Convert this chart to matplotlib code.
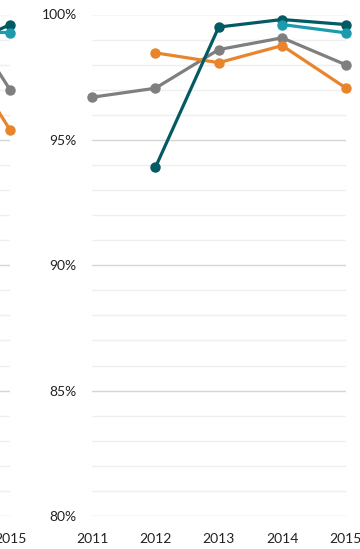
import matplotlib.pyplot as plt
from matplotlib.ticker import MultipleLocator, FuncFormatter

plt.rcParams['font.family'] = ['Lato', 'DejaVu Sans']

years = [2011, 2012, 2013, 2014, 2015]

# main panel series (percent), None where no value
dark_teal = [None, 93.9, 99.5, 99.8, 99.6]
teal = [None, None, None, 99.6, 99.27]
gray = [96.7, 97.06, 98.6, 99.07, 98.0]
orange = [None, 98.47, 98.08, 98.76, 97.08]

# previous panel, only its last segment is in view
prev_years = [2014, 2015]
prev_dark_teal = [98.85, 99.6]
prev_teal = [99.3, 99.28]
prev_gray = [99.5, 97.0]
prev_orange = [97.95, 95.4]

colors = {'dark_teal': '#045A62', 'teal': '#1B9BAC', 'gray': '#7F7F7F', 'orange': '#E8852C'}

W, H = 360, 549
fig = plt.figure(figsize=(W / 100, H / 100), dpi=100)

top = (H - 14.5) / H
bottom = (H - 516) / H


def style_axes(ax):
    ax.set_ylim(80, 100)
    ax.yaxis.set_major_locator(MultipleLocator(5))
    ax.yaxis.set_minor_locator(MultipleLocator(1))
    ax.grid(which='major', axis='y', color='#d6d6d6', linewidth=1.0)
    ax.grid(which='minor', axis='y', color='#efefef', linewidth=1.0)
    ax.set_axisbelow(True)
    for s in ax.spines.values():
        s.set_visible(False)
    ax.tick_params(which='both', length=0, labelsize=10, colors='#222222')
    ax.tick_params(axis='y', pad=11)
    ax.tick_params(axis='x', pad=12)
    ax.yaxis.set_major_formatter(FuncFormatter(lambda v, p: '%d%%' % v))


def draw(ax, xs, series):
    for key, vals in series:
        pts = [(x, v) for x, v in zip(xs, vals) if v is not None]
        ax.plot([p[0] for p in pts], [p[1] for p in pts], color=colors[key],
                linewidth=2.3, marker='o', markersize=6.5, clip_on=False)


# previous panel (cut off at the left edge)
span = 6 * 40
ax0 = fig.add_axes([(10 - span) / W, bottom, span / W, top - bottom])
style_axes(ax0)
ax0.set_xlim(2009, 2015)
ax0.set_xticks([2015])
ax0.set_yticklabels([])
draw(ax0, prev_years, [('gray', prev_gray), ('orange', prev_orange),
                       ('dark_teal', prev_dark_teal), ('teal', prev_teal)])

# main panel
ax = fig.add_axes([92 / W, bottom, 253.5 / W, top - bottom])
style_axes(ax)
ax.set_xlim(2011, 2015)
ax.set_xticks(years)
draw(ax, years, [('gray', gray), ('orange', orange),
                 ('dark_teal', dark_teal), ('teal', teal)])

fig.savefig('out.png', dpi=100)
